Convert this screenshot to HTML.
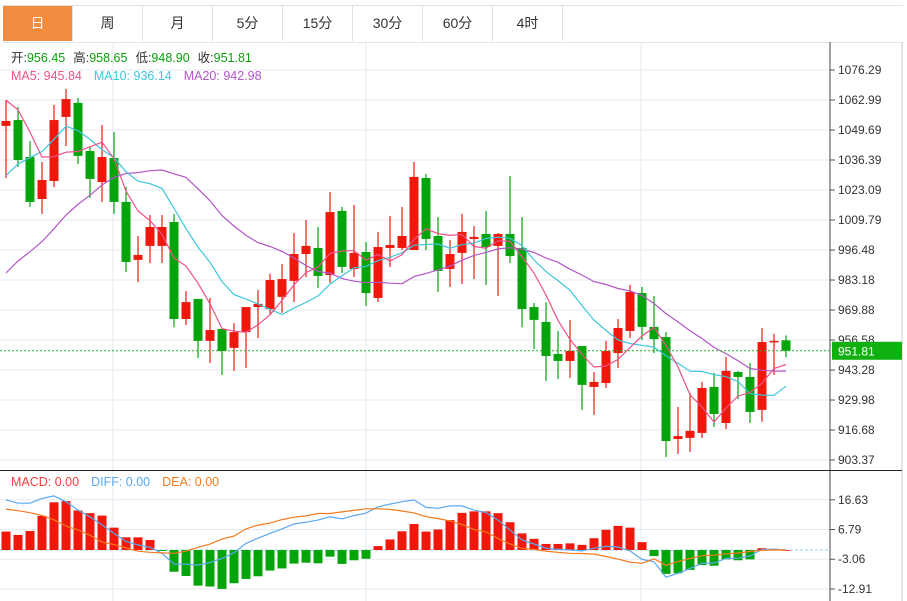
<!DOCTYPE html>
<html><head><meta charset="utf-8">
<style>
html,body{margin:0;padding:0;background:#fff;}
body{width:907px;height:601px;overflow:hidden;position:relative;font-family:"Liberation Sans","Noto Sans CJK SC",sans-serif;}
.tab{position:absolute;top:6px;height:35px;width:70px;box-sizing:border-box;border-right:1px solid #e0e0e0;text-align:center;line-height:35px;font-size:14px;color:#333;}
.tab.on{background:#f28c3f;color:#fff;}
svg{position:absolute;left:0;top:0;}
</style></head>
<body>
<div style="position:absolute;left:3px;top:5px;width:900px;height:36px;border-top:1px solid #e3e3e3;border-bottom:1px solid #e3e3e3;"></div>
<div class="tab on" style="left:3px">日</div>
<div class="tab" style="left:73px">周</div>
<div class="tab" style="left:143px">月</div>
<div class="tab" style="left:213px">5分</div>
<div class="tab" style="left:283px">15分</div>
<div class="tab" style="left:353px">30分</div>
<div class="tab" style="left:423px">60分</div>
<div class="tab" style="left:493px">4时</div>

<svg id="chart" width="907" height="601" style="top:0"></svg>

<script>
const opens=[1051.5,1054.1,1037.7,1019.1,1027.1,1055.5,1061.7,1040.4,1026.6,1037.3,1017.8,992.1,998.3,998.3,1008.9,965.9,974.8,956.2,961.5,953.1,960.1,971.2,970.3,975.7,982.8,994.7,997.4,985.4,1013.8,988.1,995.6,975.2,997.4,997.4,996.5,1028.4,1002.7,988.1,995.2,1001.4,1003.6,998.3,1003.6,997.4,971.2,964.6,950.4,947.3,953.9,935.8,937.5,950.8,960.6,977.4,962.4,957.9,912.7,913.2,915.4,935.8,919.8,942.4,940.2,925.6,955.7,956.45];
const closes=[1053.7,1036.4,1017.8,1027.5,1054.1,1063.4,1038.2,1028.0,1037.7,1017.8,991.2,994.3,1006.7,1006.7,965.9,973.4,956.2,961.0,951.7,960.1,971.2,972.6,983.2,983.6,994.7,998.3,985.0,1013.3,989.0,995.2,977.4,997.8,998.7,1002.7,1028.9,1001.4,987.2,994.7,1004.5,1002.3,997.8,1003.6,993.8,970.3,965.5,949.5,947.3,951.7,936.7,938.0,951.7,961.9,977.9,962.4,957.0,911.8,914.0,916.3,935.3,923.8,942.9,940.2,924.7,955.7,956.2,951.81];
const highs=[1063.0,1059.9,1044.8,1035.5,1060.8,1067.9,1063.9,1042.2,1051.9,1048.8,1024.4,1002.7,1012.0,1012.0,1012.5,978.3,974.8,975.2,961.5,964.1,971.2,978.8,985.9,990.3,1004.0,1009.8,1006.7,1022.2,1015.6,1016.4,1000.0,1004.5,1011.6,1015.6,1035.5,1030.2,1011.1,1000.9,1012.5,1007.1,1013.8,1004.0,1029.3,1011.1,973.0,973.4,960.6,965.5,953.9,942.4,956.2,965.9,981.0,980.1,976.1,960.1,926.9,933.1,938.0,942.0,949.1,942.9,946.4,961.9,959.3,958.65];
const lows=[1028.4,1033.3,1015.6,1012.5,1024.4,1042.6,1034.6,1019.6,1017.8,1012.5,986.7,982.3,990.7,990.7,962.2,963.2,948.6,946.4,941.1,942.9,944.2,957.5,968.1,968.6,973.4,984.5,979.7,981.9,986.3,984.5,971.7,973.4,989.0,996.5,996.5,996.5,977.9,980.1,981.4,983.6,981.0,976.1,990.7,962.2,952.6,938.4,939.3,939.8,925.6,923.4,935.3,944.2,957.5,956.6,950.8,904.7,906.1,907.0,913.2,918.0,917.1,930.4,919.8,920.3,941.1,948.90];
const prevCloses=[930,935,938,940,942,944,946,948,950,958,985,990,1000,1000,1005,1058,1067,1083,1053];
const macdVals=[6.1,5.0,6.3,11.3,15.8,16.2,13.1,12.2,11.4,7.4,4.2,4.2,3.3,-0.3,-7.2,-8.6,-11.8,-12.1,-12.9,-11.0,-9.6,-8.7,-6.8,-6.1,-4.5,-4.2,-4.4,-2.2,-4.6,-3.4,-2.9,1.3,3.5,6.2,8.6,6.1,6.8,9.9,12.3,12.8,12.8,12.2,9.2,5.5,3.7,2.0,2.0,2.2,1.7,3.9,6.7,8.0,7.4,2.6,-2.0,-7.9,-7.7,-6.6,-5.0,-5.2,-3.1,-3.4,-3.1,0.6,0.4,0.0];
const diffVals=[16.6,15.5,15.5,17.1,17.9,16.0,13.2,11.0,8.3,5.5,2.8,1.7,0.9,-1.1,-4.7,-4.7,-5.0,-4.1,-2.8,-0.9,2.2,3.9,5.5,7.0,8.6,9.2,9.9,11.0,10.3,11.4,12.2,14.3,15.2,16.0,16.6,14.1,13.8,14.6,14.6,13.2,12.4,9.9,6.6,3.3,2.0,0.6,0.2,0.0,-0.3,0.6,1.2,1.0,-0.3,-3.1,-3.9,-9.0,-7.7,-6.1,-4.4,-4.3,-2.8,-2.7,-2.0,0.2,0.2,0.0];
const priceTicks=[1076.29,1062.99,1049.69,1036.39,1023.09,1009.79,996.48,983.18,969.88,956.58,943.28,929.98,916.68,903.37];
const macdTicks=[16.63,6.79,-3.06,-12.91];
const lastPrice=951.81;

const NS="http://www.w3.org/2000/svg";
const svg=document.getElementById('chart');
function mk(tag,attrs,parent){const e=document.createElementNS(NS,tag);for(const k in attrs)e.setAttribute(k,attrs[k]);(parent||svg).appendChild(e);return e;}
const xC=i=>6+12*i;
const yP=p=>70+(1076.29-p)/13.30*30;
const yM=v=>550-v*3.02;
const PLOT_R=830;

// grid
for(const t of priceTicks){
  const g=mk('line',{x1:0,x2:PLOT_R,y1:yP(t),y2:yP(t),stroke:'#e3ebf2','stroke-width':1});
  
  
  const tk=mk('line',{x1:PLOT_R,x2:PLOT_R+5,y1:yP(t),y2:yP(t),stroke:'#555'});
  
  
  const tx=mk('text',{x:838,y:yP(t)+4,'font-size':12,fill:'#333'});
  tx.textContent=t.toFixed(2);
  
  
}
for(const t of macdTicks){
  const g=mk('line',{x1:0,x2:PLOT_R,y1:yM(t),y2:yM(t),stroke:'#e3ebf2'});
  
  
  const tk=mk('line',{x1:PLOT_R,x2:PLOT_R+5,y1:yM(t),y2:yM(t),stroke:'#555'});
  
  
  const tx=mk('text',{x:838,y:yM(t)+4,'font-size':12,fill:'#333'});
  tx.textContent=t.toFixed(2);
  
  
}
for(const vx of [113,366,641]){
  const v=mk('line',{x1:vx,x2:vx,y1:42,y2:601,stroke:'#e3ebf2'});
  
  
}
const ax=mk('line',{x1:PLOT_R,x2:PLOT_R,y1:42,y2:601,stroke:'#444'});


const rb=mk('line',{x1:902,x2:902,y1:42,y2:601,stroke:'#ccc'});


const sep=mk('line',{x1:0,x2:902,y1:470.5,y2:470.5,stroke:'#222','stroke-width':1});


const zl=mk('line',{x1:0,x2:PLOT_R,y1:yM(0),y2:yM(0),stroke:'#8fd0ea','stroke-dasharray':'3,2'});



// candles
for(let i=0;i<closes.length;i++){
  const up=closes[i]>=opens[i];
  const col=up?'#f0180a':'#05a40a';
  const x=xC(i);
  const w=mk('line',{x1:x,x2:x,y1:yP(highs[i]),y2:yP(lows[i]),stroke:col,'stroke-width':1.2});
  
  
  const top=Math.min(yP(opens[i]),yP(closes[i]));
  const h=Math.max(1.5,Math.abs(yP(opens[i])-yP(closes[i])));
  const b=mk('rect',{x:x-4.5,y:top,width:9,height:h,fill:col});
  
  
}
// moving averages
const all=prevCloses.concat(closes);
function maLine(n,color,name){
  const pts=[];
  for(let i=0;i<closes.length;i++){
    const j=i+prevCloses.length;let s=0;
    for(let k=j-n+1;k<=j;k++)s+=all[k];
    pts.push(xC(i)+','+yP(s/n).toFixed(1));
  }
  const l=mk('polyline',{points:pts.join(' '),fill:'none',stroke:color,'stroke-width':1.2});
  
  
}
maLine(20,'#b455c8','ma20-line');
maLine(10,'#3cc6dc','ma10-line');
maLine(5,'#f0508a','ma5-line');

// last price line and label
const lp=mk('line',{x1:0,x2:PLOT_R,y1:yP(lastPrice),y2:yP(lastPrice),stroke:'#2aa82a','stroke-dasharray':'2,2'});


const lb=mk('rect',{x:832,y:yP(lastPrice)-9,width:70,height:18,fill:'#11b011'});


const lt=mk('text',{x:838,y:yP(lastPrice)+4.5,'font-size':12,fill:'#fff'});
lt.textContent=lastPrice.toFixed(2);



// MACD histogram
for(let i=0;i<macdVals.length;i++){
  const v=macdVals[i];
  const y0=yM(0),y1=yM(v);
  const r=mk('rect',{x:xC(i)-4.5,y:Math.min(y0,y1),width:9,height:Math.max(0.8,Math.abs(y1-y0)),fill:v>=0?'#f0180a':'#05a40a'});
  
  
}
const dp=[],ep=[];
for(let i=0;i<diffVals.length;i++){
  dp.push(xC(i)+','+yM(diffVals[i]).toFixed(1));
  ep.push(xC(i)+','+yM(diffVals[i]-macdVals[i]/2).toFixed(1));
}
const dl=mk('polyline',{points:dp.join(' '),fill:'none',stroke:'#5aa8f0','stroke-width':1.2});


const el2=mk('polyline',{points:ep.join(' '),fill:'none',stroke:'#f57a1e','stroke-width':1.2});


</script>

<svg width="907" height="601" style="top:0;pointer-events:none">
 <text x="11" y="62" font-size="12.5" style="font-family:'Liberation Sans','Noto Sans CJK SC',sans-serif"><tspan fill="#333">开:</tspan><tspan fill="#0aa00a">956.45</tspan><tspan fill="#333" dx="8">高:</tspan><tspan fill="#0aa00a">958.65</tspan><tspan fill="#333" dx="8">低:</tspan><tspan fill="#0aa00a">948.90</tspan><tspan fill="#333" dx="8">收:</tspan><tspan fill="#0aa00a">951.81</tspan></text>
 <text x="11" y="80" font-size="12.5" style="font-family:'Liberation Sans',sans-serif"><tspan fill="#f0508a">MA5: 945.84</tspan><tspan fill="#3cc6dc" dx="12">MA10: 936.14</tspan><tspan fill="#b455c8" dx="12">MA20: 942.98</tspan></text>
 <text x="11" y="486" font-size="12.5" style="font-family:'Liberation Sans',sans-serif"><tspan fill="#f04040">MACD: 0.00</tspan><tspan fill="#5aa8f0" dx="12">DIFF: 0.00</tspan><tspan fill="#f57a1e" dx="12">DEA: 0.00</tspan></text>
</svg>
</body></html>
